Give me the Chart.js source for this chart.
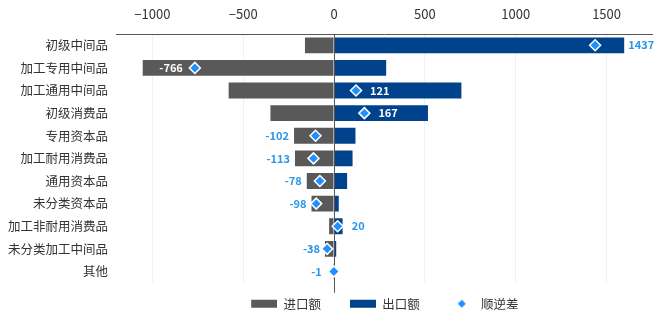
<!DOCTYPE html>
<html>
<head>
<meta charset="utf-8">
<script src="https://cdn.jsdelivr.net/npm/chart.js@4/dist/chart.umd.min.js"></script>
<style>
  html, body { margin: 0; padding: 0; background: #fff; }
</style>
</head>
<body>
<canvas id="chart" width="660" height="324"></canvas>
<script>
// 数据
const categories = ['初级中间品', '加工专用中间品', '加工通用中间品', '初级消费品', '专用资本品',
  '加工耐用消费品', '通用资本品', '未分类资本品', '加工非耐用消费品', '未分类加工中间品', '其他'];
const importValues = [-160, -1053, -580, -350, -220, -215, -150, -124, -27, -50, -1];
const exportValues = [1597, 287, 701, 517, 118, 102, 72, 26, 47, 12, 0];
const balanceValues = [1437, -766, 121, 167, -102, -113, -78, -98, 20, -38, -1];
const seriesNames = ['进口额', '出口额', '顺逆差'];
const xTicks = [-1000, -500, 0, 500, 1000, 1500];

// 标签位置：end = 出口柱右侧, start = 进口柱左侧, markerLeft / markerRight = 菱形两侧
const labelPlacement = ['end', 'markerLeft', 'markerRight', 'markerRight', 'start', 'start',
  'start', 'start', 'markerRight', 'start', 'markerLeft'];

const FONT = "'Noto Sans CJK SC', 'Noto Sans', sans-serif";
const GRAY = '#595959';
const NAVY = '#00428c';
const SKY = '#1e90ff';
const LABEL_BLUE = '#2a96e8';

Chart.defaults.font.family = FONT;
Chart.defaults.color = '#333';

// 图例色块
function swatch(kind, color) {
  const c = document.createElement('canvas');
  c.width = 34;
  c.height = 10;
  const g = c.getContext('2d');
  g.fillStyle = color;
  if (kind === 'bar') {
    g.fillRect(8, 1, 26, 8);
  } else {
    g.beginPath();
    g.moveTo(21, 1);
    g.lineTo(25, 5);
    g.lineTo(21, 9);
    g.lineTo(17, 5);
    g.closePath();
    g.fill();
  }
  return c;
}
const legendSwatches = [swatch('bar', GRAY), swatch('bar', NAVY), swatch('diamond', SKY)];

// 零线与数值标签
const balancePlugin = {
  id: 'balancePlugin',
  beforeDatasetDraw(chart, args) {
    if (args.index !== 2) return;
    const { ctx, chartArea, scales: { x } } = chart;
    const x0 = Math.round(x.getPixelForValue(0)) + 0.5;
    ctx.save();
    ctx.strokeStyle = '#555';
    ctx.lineWidth = 1;
    ctx.beginPath();
    ctx.moveTo(x0, chartArea.top);
    ctx.lineTo(x0, chartArea.bottom + 10);
    ctx.stroke();
    ctx.restore();
  },
  afterDatasetsDraw(chart) {
    const { ctx, scales: { x, y } } = chart;
    ctx.save();
    ctx.font = 'bold 11px ' + FONT;
    ctx.textBaseline = 'middle';
    ctx.textAlign = 'left';
    const x0 = x.getPixelForValue(0);
    balanceValues.forEach((v, i) => {
      const text = String(v);
      const w = ctx.measureText(text).width;
      const xi = x.getPixelForValue(importValues[i]);
      const xe = x.getPixelForValue(exportValues[i]);
      const xd = x.getPixelForValue(v);
      let left;
      switch (labelPlacement[i]) {
        case 'end': left = xe + 4; break;
        case 'markerRight': left = xd + 14; break;
        case 'markerLeft': left = xd - 12 - w; break;
        default: left = xi - 5 - w;
      }
      const inside = (left >= x0 && left + w <= xe) || (left >= xi && left + w <= x0);
      ctx.fillStyle = inside ? '#fff' : LABEL_BLUE;
      ctx.fillText(text, left, y.getPixelForValue(i));
    });
    ctx.restore();
  }
};

new Chart(document.getElementById('chart'), {
  type: 'bar',
  data: {
    labels: categories,
    datasets: [
      {
        label: seriesNames[0],
        data: importValues,
        backgroundColor: GRAY,
        indexAxis: 'y',
        barPercentage: 0.7,
        categoryPercentage: 1,
        order: 2
      },
      {
        label: seriesNames[1],
        data: exportValues,
        backgroundColor: NAVY,
        indexAxis: 'y',
        barPercentage: 0.7,
        categoryPercentage: 1,
        order: 1
      },
      {
        type: 'line',
        label: seriesNames[2],
        data: balanceValues,
        indexAxis: 'y',
        stack: 'balance',
        showLine: false,
        pointStyle: 'rectRot',
        pointRadius: 5.5,
        pointBackgroundColor: SKY,
        pointBorderColor: '#fff',
        pointBorderWidth: 1.5,
        order: 0
      }
    ]
  },
  options: {
    responsive: false,
    animation: false,
    indexAxis: 'y',
    layout: { padding: { left: 0, right: 8, top: 0, bottom: 4 } },
    scales: {
      x: {
        position: 'top',
        stacked: true,
        min: -1200,
        max: 1750,
        afterBuildTicks(scale) {
          scale.ticks = xTicks.map(v => ({ value: v }));
        },
        afterFit(scale) {
          scale.height = 34;
        },
        ticks: {
          padding: 12,
          font: { size: 13 },
          color: '#333',
          callback: v => (v < 0 ? '\u2212' + Math.abs(v) : String(v))
        },
        grid: {
          drawTicks: false,
          color: ctx => (ctx.tick && ctx.tick.value === 0 ? '#555' : '#f0f0f0')
        },
        border: { display: true, color: '#555' }
      },
      y: {
        stacked: true,
        afterFit(scale) {
          scale.width = 116;
        },
        ticks: {
          padding: 8,
          font: { size: 12.5 },
          color: '#333'
        },
        grid: { display: false, drawTicks: false },
        border: { display: false }
      }
    },
    plugins: {
      tooltip: { enabled: false },
      legend: {
        position: 'bottom',
        fullSize: false,
        labels: {
          usePointStyle: true,
          pointStyleWidth: 34,
          padding: 14.75,
          font: { size: 12.5 },
          color: '#333',
          generateLabels: () => seriesNames.map((name, i) => ({
            text: name + '\u2002',
            pointStyle: legendSwatches[i],
            fillStyle: 'transparent',
            strokeStyle: 'transparent',
            lineWidth: 0,
            hidden: false,
            datasetIndex: i,
            fontColor: '#333'
          }))
        }
      }
    }
  },
  plugins: [balancePlugin]
});
</script>
</body>
</html>
